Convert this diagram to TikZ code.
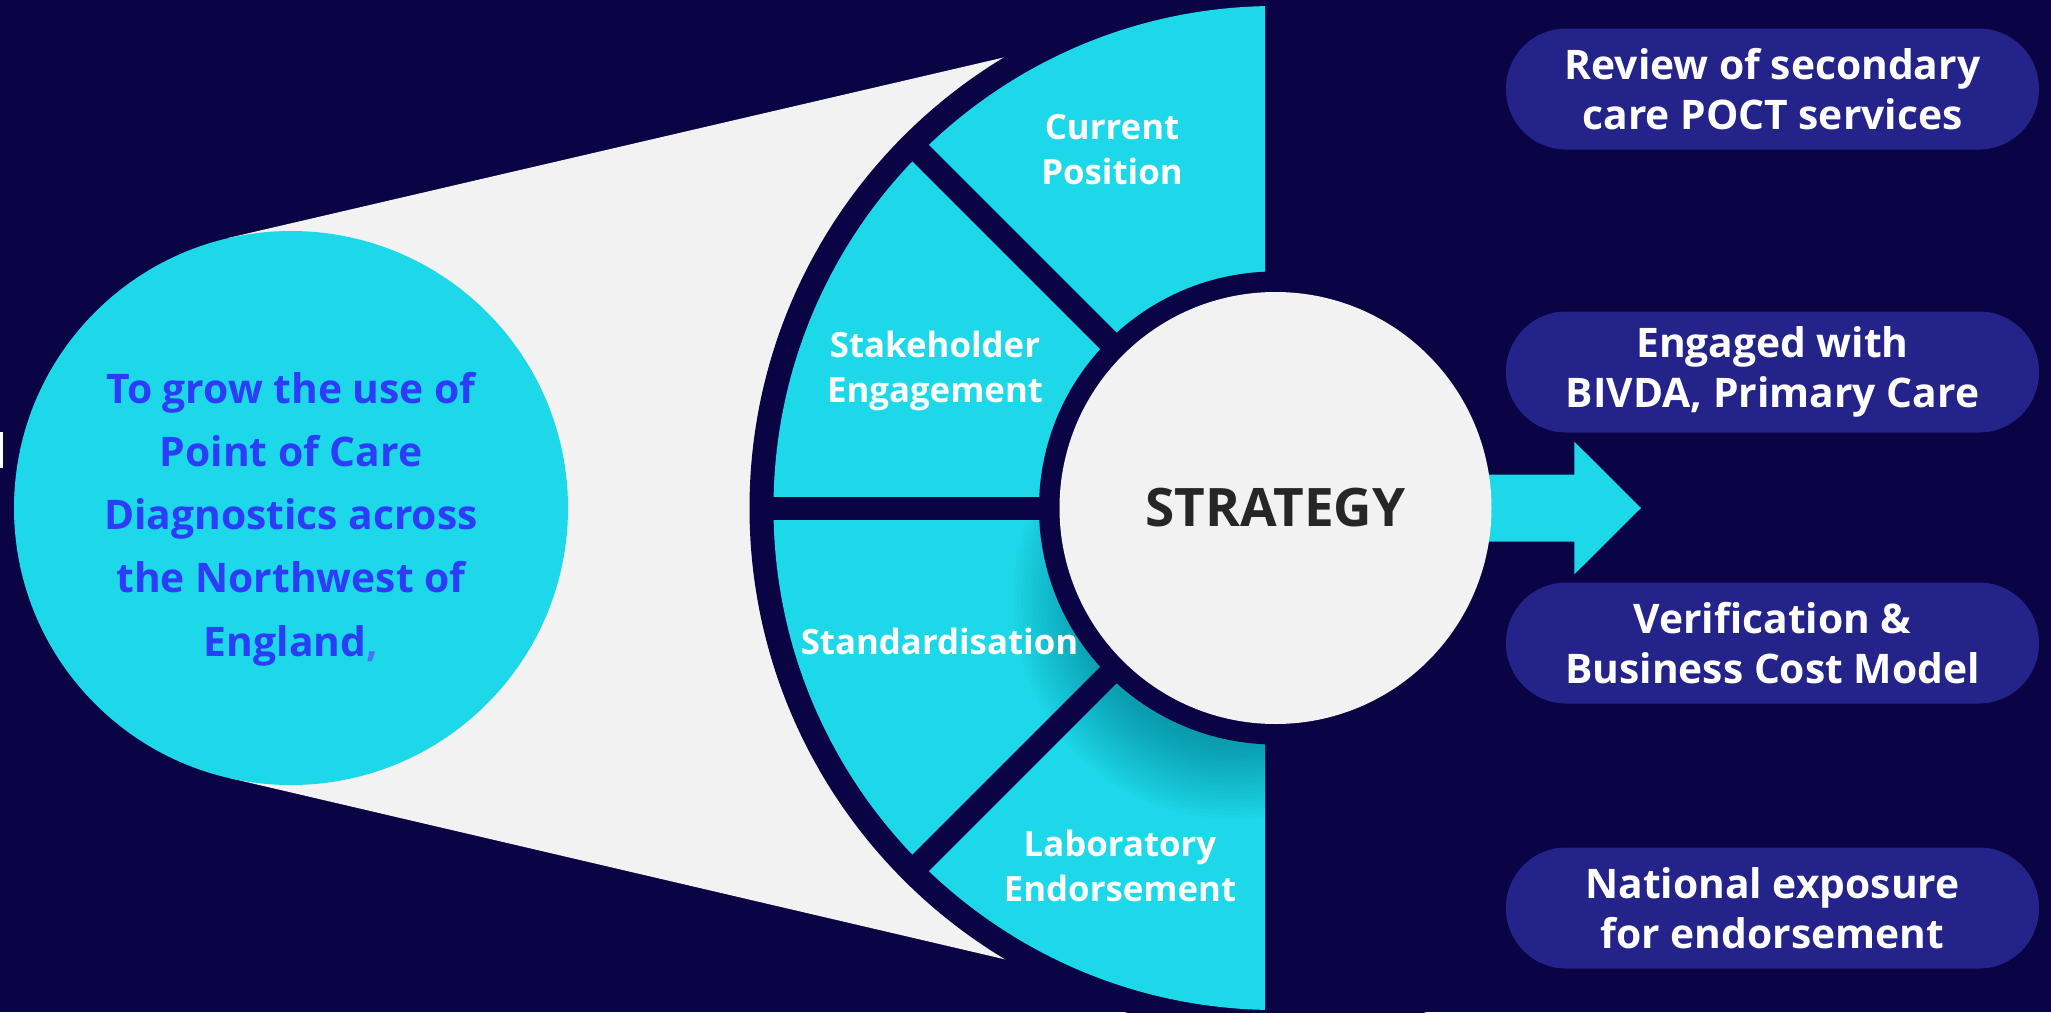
\documentclass[tikz,border=0pt]{standalone}
\usepackage{fontspec}
\setmainfont{Open Sans}
\usepackage{tikz}
\usetikzlibrary{positioning}
\definecolor{bgnavy}{RGB}{10,3,68}
\definecolor{cyanc}{RGB}{28,216,233}
\definecolor{grayc}{RGB}{242,242,242}
\definecolor{pillc}{RGB}{35,35,138}
\definecolor{aimblue}{RGB}{44,60,248}
\definecolor{commac}{RGB}{80,110,250}
\definecolor{strategyc}{RGB}{38,38,38}
\definecolor{shadowc}{RGB}{0,80,100}

\begin{document}
\begin{tikzpicture}[
		gap/.style={draw=bgnavy, line width=0.23cm},
		seclabel/.style={text=white, align=center, font=\bfseries\fontsize{9.9}{12.8}\selectfont},
		pill/.style={rectangle, rounded corners=0.6cm, fill=pillc, minimum width=5.33cm, minimum height=1.21cm,
			inner sep=0pt, text=white, align=center, font=\bfseries\fontsize{11.6}{14.2}\selectfont}
	]
				\useasboundingbox (0,0) rectangle (20.51,10.12);
				\fill[bgnavy] (0,0) rectangle (20.51,10.12);
				\fill[white] (0,5.44) rectangle (0.03,5.80);

				\coordinate (hub) at (12.755,5.04);
				\coordinate (ftl) at (2.28,7.74);
				\coordinate (ftr) at (10.6,9.676);
				\coordinate (fbr) at (10.6,0.398);
				\coordinate (fbl) at (2.28,2.343);
				\fill[grayc] (ftl) -- (ftr) -- (fbr) -- (fbl) -- cycle;

				\node[circle, fill=cyanc, minimum size=5.54cm, inner sep=0pt] (aim) at (2.91,5.04) {};
				\node[text=aimblue, align=center, font=\bfseries\fontsize{11.6}{18}\selectfont] (aimtext)
					at ([yshift=-0.11cm]aim.center)
					{To grow the use of\\Point of Care\\Diagnostics across\\the Northwest of\\England{\color{commac},}};

				\fill[bgnavy] (hub) circle (5.26);
				\begin{scope}
					\clip (0,0) rectangle (12.65,10.12);
					\clip (hub) circle (5.02);
					\fill[cyanc] (hub) circle (5.02);
					\foreach \r in {1.40,1.44,...,2.21}
						\fill[shadowc, opacity=0.024] (hub) ++(245:1) circle (\r);
				\end{scope}

				\draw[gap] (hub) -- ++(135:5.12);
				\draw[gap] (hub) -- ++(180:5.12);
				\draw[gap] (hub) -- ++(225:5.12);
				\fill[bgnavy] (hub) circle (2.365);

				\coordinate (tip) at (16.41,5.04);
				\fill[cyanc] (13.5,5.375) -- (15.744,5.375) -- (15.744,5.703) -- (tip)
					-- (15.744,4.377) -- (15.744,4.705) -- (13.5,4.705) -- cycle;

				\node[circle, fill=grayc, minimum size=4.32cm, inner sep=0pt, text=strategyc,
					font=\bfseries\fontsize{15.1}{18}\selectfont] (strategy) at (hub) {STRATEGY};

				\node[seclabel] (current) at (11.12,8.625) {Current\\Position};
				\node[seclabel] (stake) at (9.35,6.41) {Stakeholder\\Engagement};
				\node[seclabel] (standard) at (9.395,3.71) {Standardisation};
				\node[seclabel] (lab) at (11.2,1.465) {Laboratory\\Endorsement};

				\node[pill] (review) at (17.725,9.23) {Review of secondary\\care POCT services};
				\node[pill] (engaged) at (17.725,6.40) {Engaged with\\BIVDA, Primary Care};
				\node[pill] (verify) at (17.725,3.69) {Verification \&\\Business Cost Model};
				\node[pill] (national) at (17.725,1.04) {National exposure\\for endorsement};
			\end{tikzpicture}
\end{document}
